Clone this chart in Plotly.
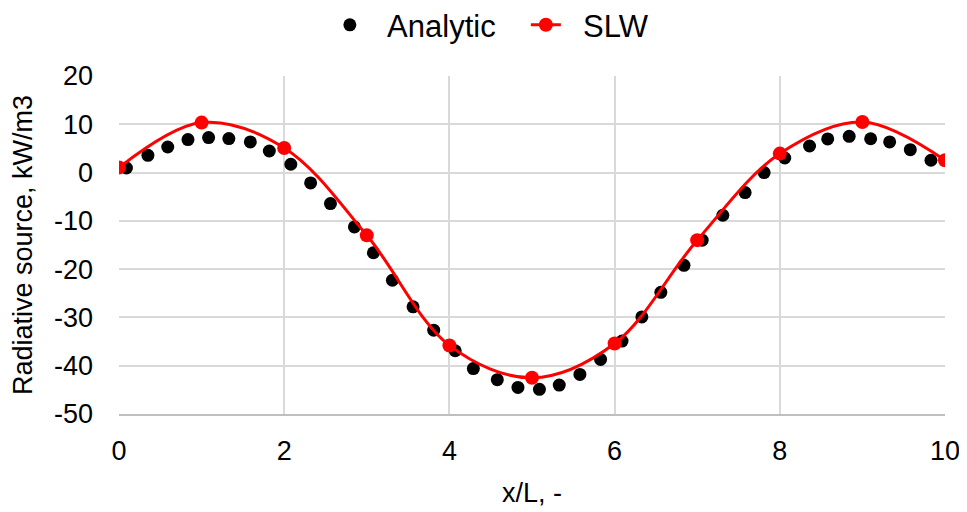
import plotly.graph_objects as go

# Analytic solution
analytic_x = [0.09, 0.35, 0.59, 0.835, 1.085, 1.33, 1.59, 1.82, 2.08, 2.32,
              2.56, 2.85, 3.08, 3.31, 3.56, 3.81, 4.07, 4.29, 4.58, 4.83,
              5.09, 5.33, 5.58, 5.83, 6.09, 6.33, 6.56, 6.84, 7.06, 7.31,
              7.58, 7.81, 8.06, 8.36, 8.58, 8.84, 9.1, 9.33, 9.58, 9.83]
analytic_y = [0.95, 3.58, 5.3, 6.83, 7.25, 7.04, 6.34, 4.47, 1.72, -2.15,
              -6.42, -11.26, -16.6, -22.3, -27.8, -32.65, -36.9, -40.6, -42.9, -44.5,
              -44.9, -44.0, -41.8, -38.7, -34.9, -29.9, -24.8, -19.2, -14.0, -8.84,
              -4.14, 0.0, 3.02, 5.5, 6.96, 7.5, 7.0, 6.34, 4.75, 2.55]

# SLW model
slw_x = [0, 1, 2, 3, 4, 5, 6, 7, 8, 9, 10]
slw_y = [1.03, 10.35, 5.1, -13.0, -35.8, -42.5, -35.4, -14.0, 3.93, 10.48, 2.55]

x_ticks = [0, 2, 4, 6, 8, 10]
x_tick_text = ["0", "2", "4", "6", "8", "10"]
y_ticks = [20, 10, 0, -10, -20, -30, -40, -50]
y_tick_text = ["20", "10", "0", "-10", "-20", "-30", "-40", "-50"]

FONT = "Liberation Sans, Arial, sans-serif"
FS = 27
NB = "\u00a0\u00a0"

fig = go.Figure()
fig.add_trace(go.Scatter(
    x=analytic_x, y=analytic_y, mode="markers", name=NB + "Analytic",
    marker=dict(color="black", size=13),
))
fig.add_trace(go.Scatter(
    x=slw_x, y=slw_y, mode="lines+markers", name=NB + "SLW",
    line=dict(color="#ff0000", width=3, shape="spline", smoothing=1.0),
    marker=dict(color="#ff0000", size=14),
))

fig.update_layout(
    width=959, height=504,
    margin=dict(l=111, r=22, t=68, b=98, autoexpand=False),
    paper_bgcolor="white", plot_bgcolor="white",
    font=dict(family=FONT, size=FS, color="black"),
    showlegend=True,
    legend=dict(orientation="h", x=0.54, xanchor="center", xref="container",
                y=0.966, yanchor="middle", yref="container",
                entrywidth=151, entrywidthmode="pixels",
                font=dict(size=31), traceorder="normal"),
    xaxis=dict(range=[0, 10], tickvals=x_ticks, ticktext=x_tick_text,
               showgrid=True, gridcolor="#d9d9d9",
               gridwidth=1.5, zeroline=False, showline=True, linecolor="#bfbfbf",
               linewidth=1.5, ticks="", ticklabelstandoff=12, automargin=False,
               title=dict(text="x/L, -", standoff=18, font=dict(size=FS))),
    yaxis=dict(range=[-50, 20], tickvals=y_ticks, ticktext=y_tick_text,
               showgrid=True, gridcolor="#d9d9d9",
               gridwidth=1.5, zeroline=False, showline=False, ticks="",
               ticklabelstandoff=25, automargin=False,
               title=dict(text="Radiative source, kW/m3", standoff=16, font=dict(size=FS))),
)

fig.write_html("out.html")
